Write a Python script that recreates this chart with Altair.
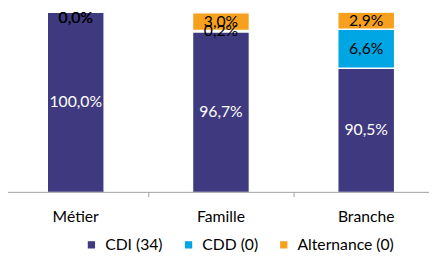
import altair as alt
import pandas as pd

categories = ["Métier", "Famille", "Branche"]
series = ["CDI (34)", "CDD (0)", "Alternance (0)"]
cdi = [100.0, 96.7, 90.5]
cdd = [0.0, 0.2, 6.6]
alternance = [0.0, 3.0, 2.9]
colors = ["#3F3A7F", "#00A5E3", "#F7A01E"]
y_min, y_max = 69.5, 100.0

rows = []
for i, cat in enumerate(categories):
    start = 0.0
    for s, vals in zip(series, [cdi, cdd, alternance]):
        v = vals[i]
        end = start + v
        lo = max(start, y_min)
        mid = min((lo + end) / 2, y_max - 1.0)
        rows.append({
            "cat": cat, "serie": s, "start": start, "end": end, "mid": mid,
            "label": f"{v:.1f}%".replace(".", ","),
            "order": series.index(s),
        })
        start = end
df = pd.DataFrame(rows)

FONT = "Lato"

x = alt.X("cat:N", sort=categories, title=None,
          scale=alt.Scale(paddingInner=0, paddingOuter=0),
          axis=alt.Axis(labelAngle=0, labelFont=FONT, labelFontSize=16,
                        labelColor="#000000", labelPadding=12,
                        domainColor="#a0a0a0", tickColor="#a0a0a0",
                        tickSize=5, bandPosition=0, ticks=True))
yscale = alt.Scale(domain=[y_min, y_max], nice=False, zero=False)

bars = alt.Chart(df).mark_bar(width=58, clip=True, stroke="white", strokeWidth=1.5).encode(
    x=x,
    y=alt.Y("start:Q", scale=yscale, axis=None),
    y2="end:Q",
    color=alt.Color("serie:N", sort=series,
                    scale=alt.Scale(domain=series, range=colors),
                    legend=alt.Legend(title=None, orient="none", direction="horizontal",
                                      legendX=82, legendY=229,
                                      symbolType="square", symbolSize=55,
                                      symbolStrokeWidth=0, labelOffset=6,
                                      labelFont=FONT, labelFontSize=16,
                                      labelColor="#000000", columnPadding=18)),
    order="order:Q",
)

labels = alt.Chart(df).mark_text(font=FONT, fontSize=16, baseline="middle").encode(
    x=alt.X("cat:N", sort=categories),
    y=alt.Y("mid:Q", scale=yscale),
    text="label:N",
    color=alt.condition(alt.datum.serie == "CDI (34)", alt.value("white"), alt.value("black")),
)

chart = alt.layer(bars, labels).properties(
    width=444, height=183,
    autosize=alt.AutoSizeParams(type="none"),
    padding={"left": -5, "top": 2, "right": -10, "bottom": 63},
).configure_view(stroke=None)

chart.save("out.html", embed_options={"renderer": "svg", "actions": False})
